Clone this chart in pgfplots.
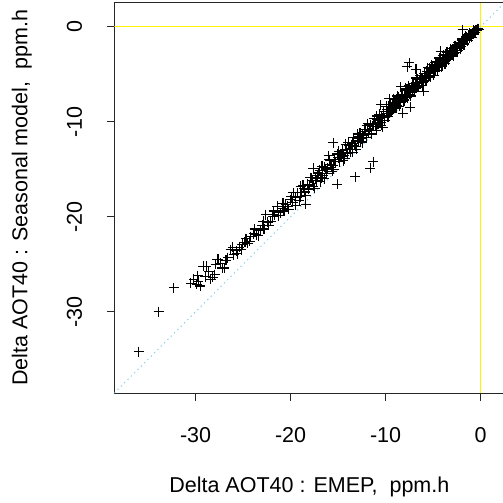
\documentclass[border=0pt]{standalone}
\usepackage{pgfplots}
\pgfplotsset{compat=1.18}
\usepackage{fontspec}
\setmainfont{Liberation Sans}
\definecolor{diagblue}{HTML}{87CEEB}
\newcommand\rfont{\fontsize{21.5bp}{25bp}\selectfont}

\begin{document}
\begin{tikzpicture}
\begin{axis}[
    scale only axis,
    width=390.07bp, height=390.07bp,
    xmin=-38.56, xmax=2.5, ymin=-38.56, ymax=2.5,
    axis line style={black!85, line width=0.9bp},
    tick align=outside, major tick length=7.5bp,
    tick style={black!85, line width=0.9bp},
    xtick pos=bottom, ytick pos=left,
    xtick={-30,-20,-10,0}, xticklabels={-30,-20,-10,0},
    ytick={-30,-20,-10,0}, yticklabels={-30,-20,-10,0},
    tick label style={font=\rfont},
    xticklabel style={anchor=base, yshift=-41.8bp},
    yticklabel style={xshift=-25bp, rotate=90, anchor=base},
    xlabel={Delta AOT40 : EMEP,\ \ ppm.h},
    ylabel={Delta AOT40 : Seasonal model,\ \ ppm.h},
    label style={font=\rfont},
    xlabel style={at={([yshift=-99bp]axis description cs:0.5,0)}, anchor=base},
    ylabel style={at={([xshift=-87bp]axis description cs:0,0.5)}, rotate=0, anchor=base},
]
% Seasonal model vs EMEP differences
\addplot[only marks, mark=+, mark size=5bp, black, line width=1.1bp] coordinates {
(-36.0,-34.2) (-33.9,-30.0) (-32.3,-27.5)
(-30.5,-27.0) (-30.2,-26.6) (-29.9,-27.1) (-29.5,-27.3) (-29.7,-26.8) (-29.2,-25.2)
(-28.9,-25.2) (-28.4,-26.6) (-28.2,-26.4) (-28.0,-26.1) (-27.7,-24.5) (-27.6,-24.5)
(-27.2,-25.4) (-27.0,-25.4) (-26.8,-24.6) (-26.3,-23.5) (-26.0,-24.0) (-25.7,-23.6)
(-25.4,-23.2) (-25.1,-22.9) (-24.8,-22.7) (-24.5,-22.8) (-24.2,-22.1) (-23.9,-21.8)
(-23.6,-21.9) (-23.2,-21.4) (-23.0,-20.9) (-22.8,-21.3) (-22.6,-19.8) (-22.4,-20.6)
(-22.1,-20.5) (-21.9,-20.0) (-21.7,-19.8) (-21.4,-18.9) (-21.1,-19.6) (-20.9,-19.1)
(-20.7,-19.4) (-20.5,-18.7) (-20.3,-18.9) (-20.0,-18.2) (-19.8,-18.5) (-19.7,-17.5)
(-19.5,-18.0)
(-29.8,-26.2) (-29.0,-26.3) (-28.6,-25.8) (-27.9,-25.0) (-27.4,-24.9) (-26.6,-24.3)
(-26.1,-23.2) (-25.6,-23.9) (-25.2,-23.5) (-24.7,-22.3) (-24.3,-22.6) (-23.8,-21.3)
(-23.4,-22.0) (-22.9,-20.5) (-22.3,-20.9) (-21.8,-19.4) (-21.3,-19.9) (-20.8,-18.6)
(-20.2,-19.2)
(-19.3,-17.5) (-19.1,-18.3) (-18.9,-17.5) (-18.7,-16.7) (-18.5,-17.4) (-18.4,-17.8)
(-18.2,-16.6) (-18.0,-16.7) (-17.8,-15.9) (-17.6,-16.8) (-17.4,-16.0) (-17.3,-16.2)
(-17.1,-15.4) (-16.9,-16.3) (-16.7,-14.7) (-16.6,-15.7) (-16.4,-14.8) (-16.2,-15.5)
(-16.1,-14.9) (-15.9,-14.1) (-15.7,-14.8) (-15.6,-15.2) (-15.4,-14.0) (-15.3,-14.2)
(-15.1,-13.4) (-14.9,-14.2) (-14.8,-13.5) (-14.6,-13.7) (-14.5,-13.0) (-14.3,-13.9)
(-14.2,-12.4) (-14.0,-13.3) (-13.9,-12.5) (-13.7,-13.2) (-13.6,-12.5) (-13.4,-11.7)
(-13.3,-12.5) (-13.1,-12.9) (-13.0,-11.8) (-12.9,-12.0) (-12.7,-11.2) (-12.6,-12.1)
(-12.4,-11.3) (-12.3,-11.5) (-12.2,-10.8) (-12.0,-11.7) (-11.9,-10.2) (-11.8,-11.2)
(-11.6,-10.3) (-11.5,-11.2) (-11.4,-10.5) (-11.2,-9.7) (-11.1,-10.5) (-11.0,-10.9)
(-10.9,-9.8) (-10.7,-9.9) (-10.6,-9.2) (-10.5,-10.1) (-10.4,-9.4) (-10.3,-9.6)
(-10.2,-8.9) (-10.1,-9.9)
(-19.0,-17.9) (-18.6,-17.0) (-18.1,-17.1) (-17.7,-16.2) (-17.2,-15.7) (-16.8,-15.9)
(-16.3,-15.0) (-15.8,-14.5) (-15.5,-14.6) (-15.0,-13.8) (-14.7,-13.4) (-14.4,-13.6)
(-14.1,-12.9) (-13.8,-12.9) (-13.5,-12.3) (-13.2,-12.6) (-12.8,-11.6) (-12.5,-11.8)
(-12.1,-11.0) (-11.7,-10.9) (-11.3,-10.3) (-10.8,-10.2) (-10.6,-9.7)
(-19.95,-17.9) (-19.45,-18.8) (-18.95,-16.8) (-18.45,-17.8) (-17.95,-15.9)
(-17.45,-17.0) (-16.95,-15.1) (-16.45,-16.0) (-15.95,-14.0) (-15.45,-15.0)
(-14.95,-13.1) (-14.45,-14.1) (-13.95,-12.2) (-13.45,-13.2) (-12.95,-11.3)
(-12.45,-12.2) (-11.95,-10.4) (-11.45,-11.3) (-10.95,-9.4) (-10.45,-10.4)
(-17.6,-14.9) (-15.5,-12.2) (-15.1,-16.6) (-13.2,-15.8) (-11.6,-14.9) (-11.3,-14.2)
(-18.4,-18.7) (-16.0,-13.6)
(-9.9,-8.7) (-9.8,-9.1) (-9.7,-8.7) (-9.6,-9.1) (-9.5,-8.2) (-9.4,-8.5) (-9.3,-8.8)
(-9.2,-8.2) (-9.1,-8.4) (-9.0,-7.7) (-8.9,-8.6) (-8.8,-7.8) (-8.7,-7.6) (-8.6,-8.0)
(-8.5,-7.6) (-8.4,-8.0) (-8.3,-7.1) (-8.2,-7.4) (-8.1,-7.7) (-8.0,-7.1) (-7.9,-7.3)
(-7.8,-6.6) (-7.7,-7.5) (-7.6,-6.7) (-7.5,-6.5) (-7.4,-6.9) (-7.3,-6.5) (-7.2,-6.9)
(-7.1,-6.0) (-7.0,-6.3) (-6.9,-6.5) (-6.8,-6.0) (-6.7,-6.2) (-6.6,-5.5) (-6.5,-6.4)
(-6.4,-5.6) (-6.3,-5.4) (-6.2,-5.8) (-6.1,-5.4) (-6.0,-5.8) (-5.9,-4.9) (-5.8,-5.2)
(-5.7,-5.4) (-5.6,-4.9) (-5.5,-5.1) (-5.4,-4.4) (-5.3,-5.3) (-5.2,-4.5) (-5.1,-4.3)
(-5.0,-4.7) (-4.9,-4.3) (-4.8,-4.7) (-4.7,-3.8) (-4.6,-4.1) (-4.5,-4.3) (-4.4,-3.7)
(-4.3,-4.0) (-4.2,-3.4) (-4.1,-4.2) (-4.0,-3.4) (-3.9,-3.2) (-3.8,-3.6) (-3.7,-3.2)
(-3.6,-3.6) (-3.5,-2.7) (-3.4,-3.0) (-3.3,-3.2) (-3.2,-2.6) (-3.1,-2.9) (-3.0,-2.3)
(-2.9,-3.1) (-2.8,-2.3) (-2.7,-2.1) (-2.6,-2.5) (-2.5,-2.1) (-2.4,-2.5) (-2.3,-1.7)
(-2.2,-1.9) (-2.1,-2.1) (-2.0,-1.5) (-1.9,-1.7) (-1.8,-1.3) (-1.7,-1.8) (-1.6,-1.3)
(-1.5,-1.1) (-1.4,-1.4) (-1.3,-1.0) (-1.2,-1.2) (-1.1,-0.8) (-1.0,-0.9) (-0.9,-0.7)
(-0.8,-0.8) (-0.7,-0.5) (-0.6,-0.6) (-0.5,-0.4) (-0.4,-0.4) (-0.3,-0.2) (-0.2,-0.3)
(-9.85,-9.1) (-9.65,-8.4) (-9.45,-8.9) (-9.25,-8.2) (-9.05,-8.2) (-8.85,-8.3)
(-8.65,-7.4) (-8.45,-7.8) (-8.25,-7.2) (-8.05,-7.8) (-7.85,-7.2) (-7.65,-6.6)
(-7.45,-7.1) (-7.25,-6.4) (-7.05,-6.3) (-6.85,-6.5) (-6.65,-5.6) (-6.45,-6.0)
(-6.25,-5.4) (-6.05,-5.9) (-5.85,-5.4) (-5.65,-4.7) (-5.45,-5.3) (-5.25,-4.5)
(-5.05,-4.5) (-4.85,-4.6) (-4.65,-3.7) (-4.45,-4.1) (-4.25,-3.6) (-4.05,-4.1)
(-3.85,-3.5) (-3.65,-2.9) (-3.45,-3.4) (-3.25,-2.7) (-3.05,-2.7) (-2.85,-2.8)
(-2.65,-2.0) (-2.45,-2.3) (-2.25,-1.8) (-2.05,-2.1) (-1.85,-1.6) (-1.65,-1.2)
(-1.45,-1.4) (-1.25,-0.9) (-1.05,-1.0) (-0.85,-0.7) (-0.65,-0.6) (-0.45,-0.3)
(-0.25,-0.2)
(-9.95,-8.4) (-9.75,-9.5) (-9.55,-8.2) (-9.35,-9.0) (-9.15,-7.6) (-8.95,-8.5)
(-8.75,-7.3) (-8.55,-8.4) (-8.35,-7.1) (-8.15,-7.9) (-7.95,-6.5) (-7.75,-7.4)
(-7.55,-6.2) (-7.35,-7.3) (-7.15,-6.0) (-6.95,-6.8) (-6.75,-5.4) (-6.55,-6.3)
(-6.35,-5.1) (-6.15,-6.2) (-5.95,-4.9) (-5.75,-5.7) (-5.55,-4.3) (-5.35,-5.2)
(-5.15,-4.0) (-4.95,-5.1) (-4.75,-3.8) (-4.55,-4.6) (-4.35,-3.3) (-4.15,-4.1)
(-3.95,-3.0) (-3.75,-3.9) (-3.55,-2.7) (-3.35,-3.5) (-3.15,-2.3) (-2.95,-3.0)
(-2.75,-2.0) (-2.55,-2.7) (-2.35,-1.7) (-2.15,-2.3) (-1.95,-1.3) (-1.75,-1.9)
(-1.55,-1.0) (-1.35,-1.5) (-1.15,-0.7) (-0.95,-1.1) (-0.75,-0.4) (-0.55,-0.6)
(-0.35,-0.2)
(-1.9,-0.3) (-4.2,-2.6) (-7.5,-3.8) (-7.7,-4.2) (-6.8,-4.5) (-8.4,-6.3) (-8.2,-9.1)
(-7.4,-8.5) (-6.0,-6.8) (-10.5,-8.2) (-10.3,-10.6) (-9.6,-7.6)
};
\addplot[yellow, line width=1bp] coordinates {(0,-38.56) (0,2.5)};
\addplot[yellow, line width=1bp] coordinates {(-38.56,0) (2.5,0)};
\addplot[diagblue, line width=1bp, dash pattern=on 1.2bp off 3.5bp] coordinates {(-38.56,-38.56) (2.5,2.5)};
\end{axis}
\pgfresetboundingbox
\useasboundingbox ([xshift=-114.3bp,yshift=-110bp]current axis.south west) rectangle ([xshift=388.7bp,yshift=393bp]current axis.south west);
\end{tikzpicture}
\end{document}
